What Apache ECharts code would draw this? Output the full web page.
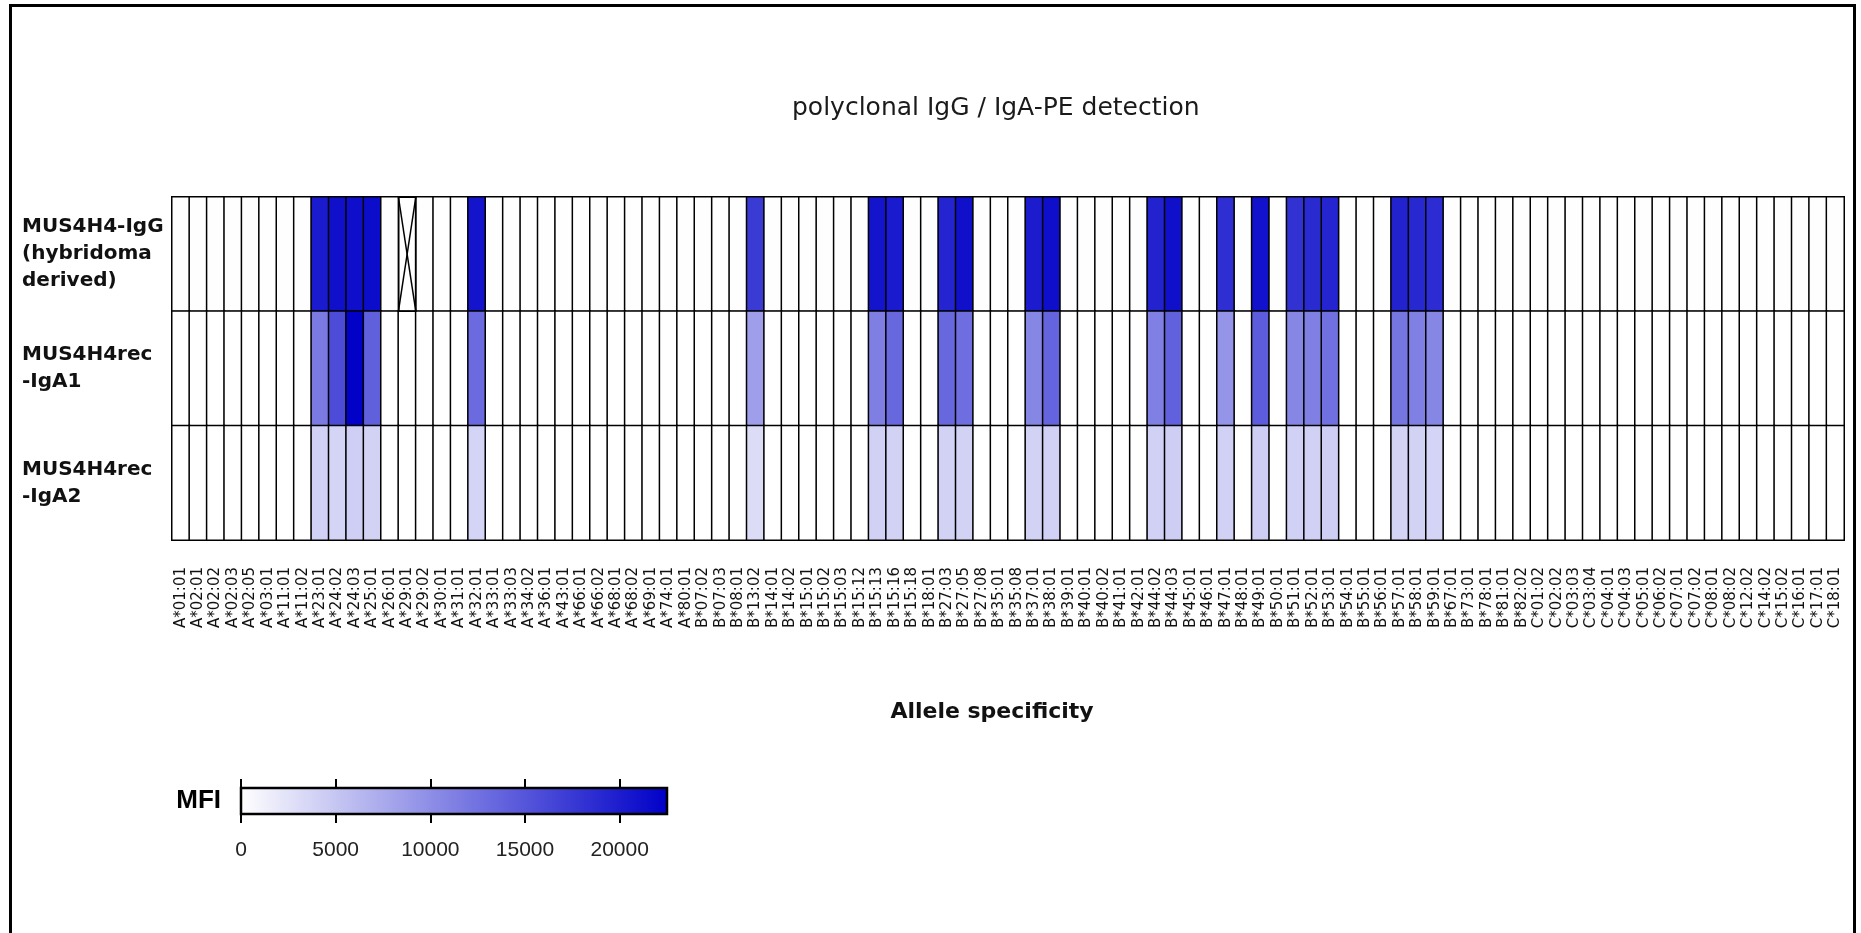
<!DOCTYPE html>
<html><head><meta charset="utf-8">
<script src="https://cdn.jsdelivr.net/npm/echarts@6/dist/echarts.min.js"></script>
<style>html,body{margin:0;padding:0;background:#fff}#chart{width:1861px;height:933px}</style>
</head><body><div id="chart"></div>
<script>
const alleles = [
  'A*01:01','A*02:01','A*02:02','A*02:03','A*02:05','A*03:01','A*11:01','A*11:02','A*23:01','A*24:02',
  'A*24:03','A*25:01','A*26:01','A*29:01','A*29:02','A*30:01','A*31:01','A*32:01','A*33:01','A*33:03',
  'A*34:02','A*36:01','A*43:01','A*66:01','A*66:02','A*68:01','A*68:02','A*69:01','A*74:01','A*80:01',
  'B*07:02','B*07:03','B*08:01','B*13:02','B*14:01','B*14:02','B*15:01','B*15:02','B*15:03','B*15:12',
  'B*15:13','B*15:16','B*15:18','B*18:01','B*27:03','B*27:05','B*27:08','B*35:01','B*35:08','B*37:01',
  'B*38:01','B*39:01','B*40:01','B*40:02','B*41:01','B*42:01','B*44:02','B*44:03','B*45:01','B*46:01',
  'B*47:01','B*48:01','B*49:01','B*50:01','B*51:01','B*52:01','B*53:01','B*54:01','B*55:01','B*56:01',
  'B*57:01','B*58:01','B*59:01','B*67:01','B*73:01','B*78:01','B*81:01','B*82:02',
  'C*01:02','C*02:02','C*03:03','C*03:04','C*04:01','C*04:03','C*05:01','C*06:02','C*07:01','C*07:02',
  'C*08:01','C*08:02','C*12:02','C*14:02','C*15:02','C*16:01','C*17:01','C*18:01'
];
const rowLabels = ['MUS4H4-IgG\n(hybridoma\nderived)', 'MUS4H4rec\n-IgA1', 'MUS4H4rec\n-IgA2'];

// MFI per allele (null = not measured)
const mfiIgG = [
  120,120,120,120,120,120,120,120, 20200,21100,21300,21400, 120,null,120,120,120, 20700, 120,120,120,120,120,120,120,120,120,120,120,120,
  120,120,120,17400,120,120,120,120,120,120, 20700,20200, 120,120, 19300,21100, 120,120,120, 20000,21300, 120,120,120,120,120,
  19500,21100, 120,120, 18400, 120, 20900, 120, 18100,18800,19300, 120,120,120, 19500,19000,18600, 120,120,120,120,120,
  120,120,120,120,120,120,120,120,120,120,120,120,120,120,120,120,120,120
];
const mfiIgA1 = [
  0,0,0,0,0,0,0,0, 11700,15800,22400,14000, 0,0,0,0,0, 13100, 0,0,0,0,0,0,0,0,0,0,0,0,
  0,0,0,8600,0,0,0,0,0,0, 11400,13300, 0,0, 13300,12800, 0,0,0, 10700,13700, 0,0,0,0,0,
  11200,13900, 0,0, 9400, 0, 14400, 0, 10700,11200,12600, 0,0,0, 12100,11200,10700, 0,0,0,0,0,
  0,0,0,0,0,0,0,0,0,0,0,0,0,0,0,0,0,0
];
const mfiIgA2 = [
  0,0,0,0,0,0,0,0, 4100,3800,4200,4000, 0,0,0,0,0, 3800, 0,0,0,0,0,0,0,0,0,0,0,0,
  0,0,0,3100,0,0,0,0,0,0, 4100,4000, 0,0, 4000,4000, 0,0,0, 4000,4100, 0,0,0,0,0,
  4100,4300, 0,0, 4100, 0, 4300, 0, 4100,4100,4300, 0,0,0, 3900,4000,3800, 0,0,0,0,0,
  0,0,0,0,0,0,0,0,0,0,0,0,0,0,0,0,0,0
];
const legendTicks = [0, 5000, 10000, 15000, 20000];
const mfiMax = 22500;
const naCells = [['A*29:01', 0]];

const lowColor = '#FFFFFF', highColor = '#0000C8';
const rows = [mfiIgG, mfiIgA1, mfiIgA2];
const heatData = [];
rows.forEach((vals, r) => vals.forEach((v, c) => heatData.push([c, r, v === null ? '-' : v])));
const naData = naCells.map(([a, r]) => [alleles.indexOf(a), r]);

const chart = echarts.init(document.getElementById('chart'));
chart.setOption({
  backgroundColor: '#fff',
  animation: false,
  title: {
    text: 'polyclonal IgG / IgA-PE detection',
    left: 787, top: 91,
    textStyle: { fontFamily: 'DejaVu Sans', fontSize: 25, fontWeight: 'normal', color: '#1a1a1a' }
  },
  graphic: [{
    type: 'rect', silent: true, z: -10,
    shape: { x: 10.5, y: 5.5, width: 1844, height: 1000 },
    style: { fill: 'none', stroke: '#000', lineWidth: 3 }
  }],
  grid: [
    { left: 172, top: 197, width: 1672, height: 343, show: true, borderColor: '#000', borderWidth: 2, backgroundColor: '#fff' },
    { left: 241, top: 788, width: 426, height: 26, show: true, borderColor: '#000', borderWidth: 2.5,
      backgroundColor: { type: 'linear', x: 0, y: 0, x2: 1, y2: 0,
        colorStops: [{ offset: 0, color: lowColor }, { offset: 1, color: highColor }] } }
  ],
  xAxis: [
    {
      type: 'category', data: alleles, gridIndex: 0,
      name: 'Allele specificity', nameLocation: 'middle', nameGap: 161,
      nameTextStyle: { fontFamily: 'DejaVu Sans', fontSize: 22, fontWeight: 'bold', color: '#111', padding: [0, 32, 0, 0] },
      axisLine: { show: false }, axisTick: { show: false }, splitLine: { show: false },
      axisLabel: { interval: 0, rotate: 90, margin: 27, fontFamily: 'DejaVu Sans', fontSize: 15, color: '#111' }
    },
    {
      type: 'value', gridIndex: 1, min: 0, max: mfiMax, position: 'bottom',
      axisLine: { show: false }, splitLine: { show: false },
      axisTick: { show: true, customValues: legendTicks, length: 9, lineStyle: { color: '#000', width: 2 } },
      axisLabel: { customValues: legendTicks, margin: 26, fontFamily: 'Liberation Sans', fontSize: 21, color: '#222',
        formatter: v => String(v) }
    },
    {
      type: 'value', gridIndex: 1, min: 0, max: mfiMax, position: 'top',
      axisLine: { show: false }, splitLine: { show: false },
      axisTick: { show: true, customValues: legendTicks, length: 9, lineStyle: { color: '#000', width: 2 } },
      axisLabel: { show: false }
    }
  ],
  yAxis: [
    {
      type: 'category', data: rowLabels, gridIndex: 0, inverse: true,
      axisLine: { show: false }, axisTick: { show: false }, splitLine: { show: false },
      axisLabel: { align: 'left', margin: 150, fontFamily: 'DejaVu Sans', fontSize: 20, fontWeight: 'bold', lineHeight: 27, color: '#111' }
    },
    {
      type: 'category', data: ['MFI'], gridIndex: 1,
      axisLine: { show: false }, axisTick: { show: false }, splitLine: { show: false },
      axisLabel: { margin: 20, fontFamily: 'Liberation Sans', fontSize: 26, fontWeight: 'bold', color: '#000' }
    }
  ],
  visualMap: {
    type: 'continuous', show: false, min: 0, max: mfiMax, seriesIndex: 0, dimension: 2,
    inRange: { color: [lowColor, highColor] }
  },
  series: [
    {
      type: 'heatmap', xAxisIndex: 0, yAxisIndex: 0, data: heatData,
      itemStyle: { borderColor: '#000', borderWidth: 1.5 },
      emphasis: { disabled: true }
    },
    {
      type: 'custom', xAxisIndex: 0, yAxisIndex: 0, data: naData, z: 5,
      renderItem: function (params, api) {
        const p = api.coord([api.value(0), api.value(1)]);
        const s = api.size([1, 1]);
        const x0 = p[0] - s[0] / 2, x1 = p[0] + s[0] / 2, y0 = p[1] - s[1] / 2, y1 = p[1] + s[1] / 2;
        const st = { stroke: '#000', lineWidth: 1.5, fill: 'none' };
        return { type: 'group', children: [
          { type: 'line', shape: { x1: x0, y1: y0, x2: x1, y2: y1 }, style: st },
          { type: 'line', shape: { x1: x1, y1: y0, x2: x0, y2: y1 }, style: st },
          { type: 'rect', shape: { x: x0, y: y0, width: s[0], height: s[1] }, style: st }
        ] };
      }
    }
  ]
});
</script>
</body></html>
